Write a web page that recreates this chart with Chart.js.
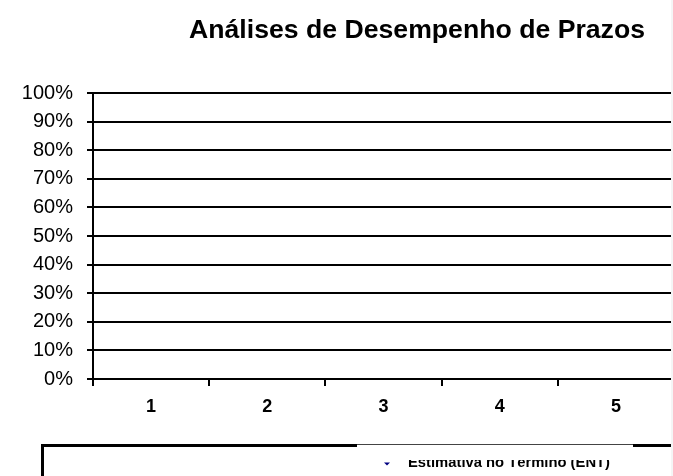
<!DOCTYPE html>
<html>
<head>
<meta charset="utf-8">
<script src="https://cdn.jsdelivr.net/npm/chart.js@4/dist/chart.umd.min.js"></script>
<style>
  html, body { margin: 0; padding: 0; background: #fff; overflow: hidden; width: 673px; height: 476px; }
  #wrap { width: 680px; height: 476px; }
</style>
</head>
<body>
<div id="wrap"><canvas id="c" width="680" height="476"></canvas></div>
<script>
// ---- data ----
const titleText = 'Análises de Desempenho de Prazos';
const categories = ['1', '2', '3', '4', '5'];
const seriesName = 'Estimativa no Término (ENT)';
const entValues = [null, null, null, null, null]; // no values plotted in the reference
const yTickValues = [0, 10, 20, 30, 40, 50, 60, 70, 80, 90, 100];
const seriesColor = '#000080';

const FONT = '"Liberation Sans", Arial, sans-serif';

function fittedText(ctx, text, x, y, targetWidth) {
  const w = ctx.measureText(text).width;
  ctx.save();
  ctx.translate(x, y);
  ctx.scale(targetWidth / w, 1);
  ctx.fillText(text, 0, 0);
  ctx.restore();
}

const overlayPlugin = {
  id: 'overlay',
  afterDraw(chart) {
    const ctx = chart.ctx;
    // Title
    ctx.save();
    ctx.font = 'bold 25px ' + FONT;
    ctx.fillStyle = '#000';
    ctx.textBaseline = 'alphabetic';
    fittedText(ctx, titleText, 189, 38, 456);
    ctx.restore();

    // Legend box (partially visible)
    ctx.save();
    ctx.strokeStyle = '#000';
    ctx.lineWidth = 3;
    ctx.beginPath();
    ctx.moveTo(42.5, 500);
    ctx.lineTo(42.5, 445.5);
    ctx.lineTo(357, 445.5);
    ctx.moveTo(633, 445.5);
    ctx.lineTo(680, 445.5);
    ctx.stroke();
    ctx.lineWidth = 1;
    ctx.strokeStyle = '#444';
    ctx.beginPath();
    ctx.moveTo(357, 444.5);
    ctx.lineTo(633, 444.5);
    ctx.stroke();
    ctx.restore();

    // Legend entry, only its lower part shows
    ctx.save();
    ctx.beginPath();
    ctx.rect(0, 460, 680, 30);
    ctx.clip();
    chart.data.datasets.forEach((ds) => {
      ctx.fillStyle = ds.borderColor;
      ctx.beginPath();
      ctx.moveTo(384, 462.5);
      ctx.lineTo(390, 462.5);
      ctx.lineTo(387, 465.5);
      ctx.closePath();
      ctx.fill();
      ctx.font = 'bold 15px ' + FONT;
      ctx.fillStyle = '#000';
      ctx.textBaseline = 'alphabetic';
      fittedText(ctx, ds.label, 408, 467, 202);
    });
    ctx.restore();

    // faint strip at the right edge
    ctx.save();
    ctx.fillStyle = '#f5f5f5';
    ctx.fillRect(671, 0, 9, 476);
    ctx.restore();
  }
};

new Chart(document.getElementById('c'), {
  type: 'line',
  data: {
    labels: categories,
    datasets: [{
      label: seriesName,
      data: entValues,
      borderColor: seriesColor,
      backgroundColor: seriesColor,
      pointStyle: 'triangle',
      borderWidth: 2
    }]
  },
  options: {
    responsive: false,
    animation: false,
    devicePixelRatio: 1,
    layout: { padding: { left: 0, right: 4, top: 93, bottom: 47 } },
    plugins: {
      legend: { display: false },
      title: { display: false },
      tooltip: { enabled: false }
    },
    scales: {
      x: {
        type: 'category',
        offset: true,
        grid: {
          offset: true,
          drawOnChartArea: false,
          drawTicks: true,
          tickLength: 7,
          color: '#000',
          lineWidth: 2
        },
        border: { display: true, color: '#000', width: 2 },
        ticks: {
          color: '#000',
          padding: 10,
          font: { family: FONT, size: 18, weight: 'bold' },
          maxRotation: 0
        },
        afterFit(s) { s.height = 50; }
      },
      y: {
        min: 0,
        max: 100,
        afterBuildTicks(s) { s.ticks = yTickValues.map(v => ({ value: v })); },
        grid: {
          color: '#000',
          lineWidth: 2,
          drawTicks: true,
          tickLength: 6
        },
        border: { display: true, color: '#000', width: 2 },
        ticks: {
          color: '#000',
          padding: 14,
          font: { family: FONT, size: 20 },
          callback: (v) => v + '%'
        },
        afterFit(s) { s.width = 93; }
      }
    }
  },
  plugins: [overlayPlugin]
});
</script>
</body>
</html>
